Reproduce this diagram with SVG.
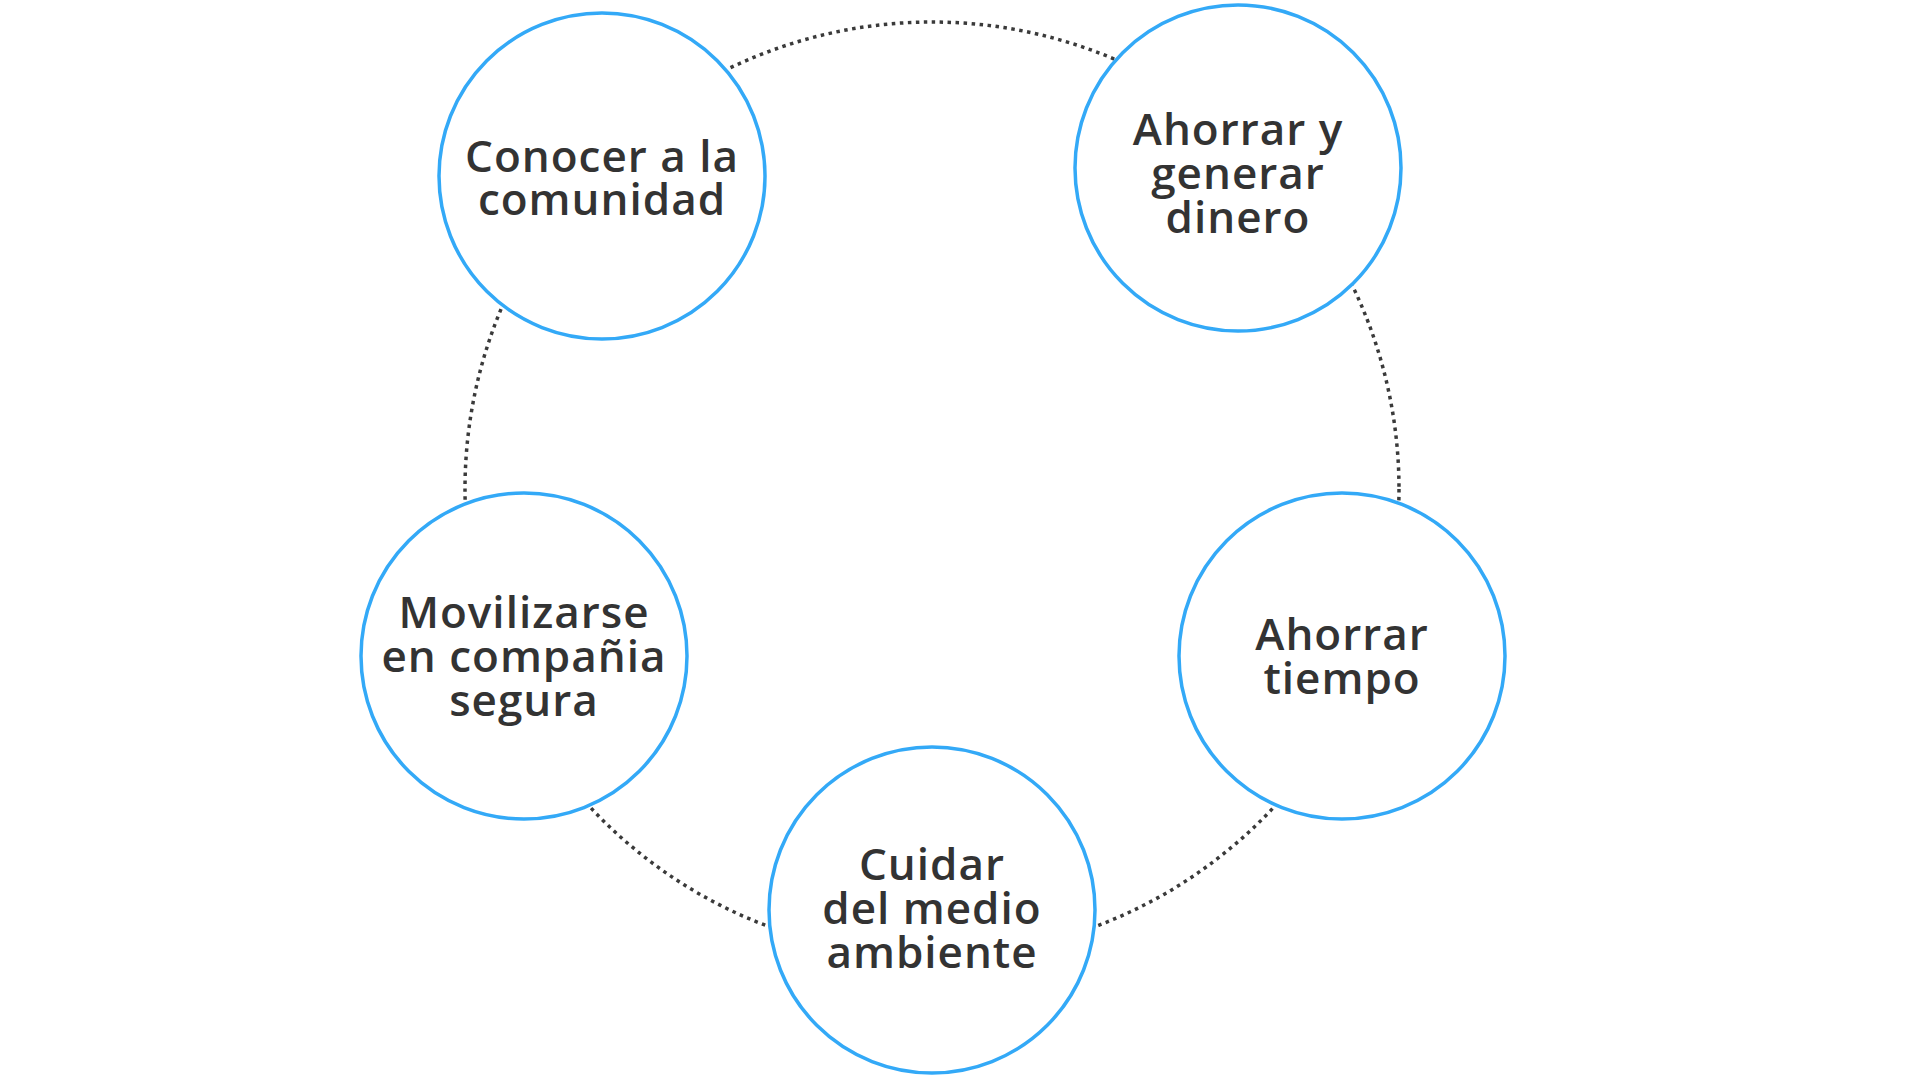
<svg xmlns="http://www.w3.org/2000/svg" width="1920" height="1080" viewBox="0 0 1920 1080">
  <style>
    .ring { fill: none; stroke: #3a3a3a; stroke-width: 3.5; stroke-dasharray: 3.5 4.5; }
    .node { fill: #ffffff; stroke: #33a9f7; stroke-width: 3.5; }
    .label { font-family: "Open Sans", "Noto Sans", sans-serif; font-weight: 600; font-size: 44px; letter-spacing: 1px; fill: #333333; text-anchor: middle; }
  </style>
  <rect width="1920" height="1080" fill="#ffffff"/>
  <g id="connectors">
    <circle class="ring" cx="932" cy="489" r="467"/>
  </g>
  <g id="node-conocer">
    <circle class="node" cx="602" cy="176" r="163"/>
    <text class="label" x="602" y="172">Conocer a la</text>
    <text class="label" x="602" y="215">comunidad</text>
  </g>
  <g id="node-ahorrar-dinero">
    <circle class="node" cx="1238" cy="168" r="163"/>
    <text class="label" x="1238" y="145">Ahorrar y</text>
    <text class="label" x="1238" y="189">generar</text>
    <text class="label" x="1238" y="233">dinero</text>
  </g>
  <g id="node-ahorrar-tiempo">
    <circle class="node" cx="1342" cy="656" r="163"/>
    <text class="label" x="1342" y="650">Ahorrar</text>
    <text class="label" x="1342" y="694">tiempo</text>
  </g>
  <g id="node-cuidar">
    <circle class="node" cx="932" cy="910" r="163"/>
    <text class="label" x="932" y="880">Cuidar</text>
    <text class="label" x="932" y="924">del medio</text>
    <text class="label" x="932" y="968">ambiente</text>
  </g>
  <g id="node-movilizarse">
    <circle class="node" cx="524" cy="656" r="163"/>
    <text class="label" x="524" y="628">Movilizarse</text>
    <text class="label" x="524" y="672">en compañia</text>
    <text class="label" x="524" y="716">segura</text>
  </g>
</svg>
